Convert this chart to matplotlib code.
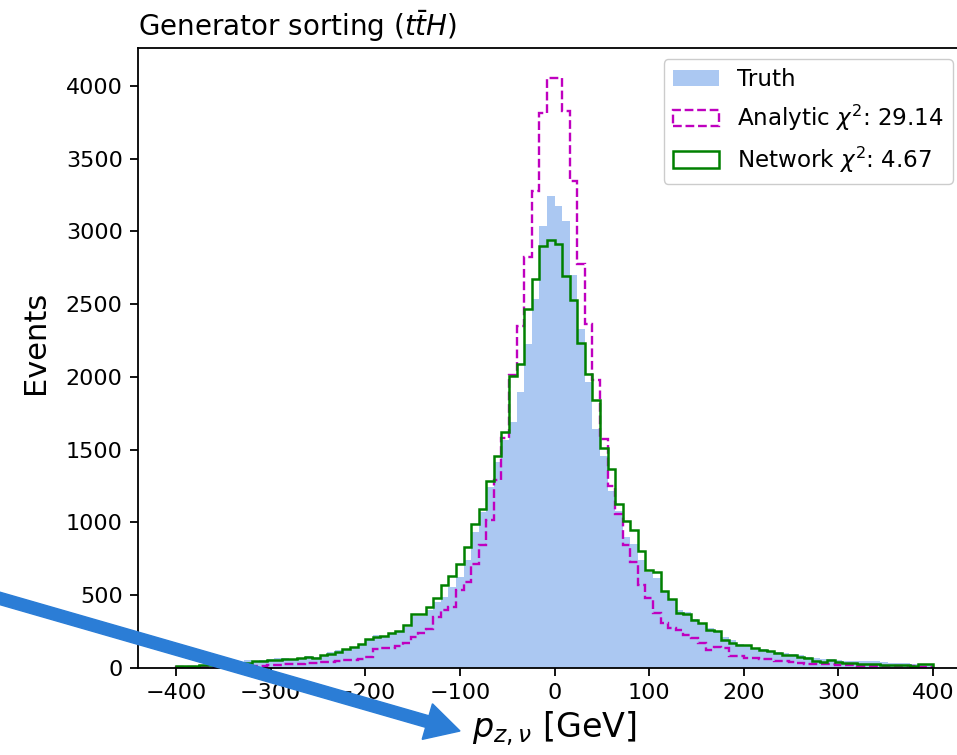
import numpy as np
import matplotlib
matplotlib.use('Agg')
import matplotlib.pyplot as plt
from matplotlib.patches import FancyArrow

# ---- data (8 GeV bins from -400 to 400) ----
bin_edges = np.arange(-400, 401, 8)

truth = [
    12, 14, 16, 18, 20, 24, 26, 30, 40, 52,
    50, 52, 60, 70, 66, 62, 65, 80, 75, 90,
    110, 125, 125, 140, 160, 190, 225, 220, 236, 250,
    285, 355, 360, 400, 455, 489, 558, 627, 741, 935,
    1073, 1244, 1416, 1564, 1690, 1896, 2228, 2536, 3035, 3245,
    3177, 3074, 2700, 2331, 1965, 1644, 1460, 1215, 1080, 902,
    850, 742, 662, 620, 520, 470, 400, 387, 335, 300,
    278, 256, 215, 192, 165, 151, 135, 128, 119, 108,
    101, 96, 89, 78, 72, 62, 60, 55, 50, 48,
    48, 45, 45, 40, 37, 35, 32, 28, 27, 25,
]

analytic = [
    6, 6, 7, 7, 8, 8, 9, 9, 10, 12,
    14, 14, 18, 23, 25, 28, 30, 37, 37, 38,
    41, 45, 55, 58, 62, 78, 132, 135, 138, 150,
    169, 212, 242, 265, 352, 400, 420, 538, 588, 712,
    844, 1015, 1290, 1580, 2010, 2353, 2822, 3280, 3812, 4057,
    4057, 3828, 3348, 2777, 2365, 1976, 1572, 1248, 1061, 848,
    729, 569, 484, 375, 307, 275, 262, 230, 204, 170,
    124, 142, 140, 85, 82, 66, 66, 64, 62, 50,
    50, 40, 37, 30, 30, 28, 25, 22, 20, 18,
    16, 15, 14, 14, 13, 12, 12, 11, 10, 10,
]

network = [
    14, 14, 16, 18, 22, 23, 24, 26, 28, 32,
    45, 50, 55, 56, 62, 60, 66, 75, 72, 89,
    96, 112, 130, 146, 162, 197, 210, 220, 238, 255,
    295, 368, 368, 421, 478, 569, 632, 718, 832, 988,
    1091, 1285, 1456, 1621, 2005, 2088, 2468, 2674, 2902, 2941,
    2914, 2696, 2530, 2230, 2020, 1839, 1513, 1370, 1125, 1011,
    947, 804, 675, 661, 530, 472, 375, 368, 332, 306,
    262, 256, 192, 174, 160, 155, 135, 125, 120, 101,
    92, 87, 75, 68, 45, 43, 55, 38, 37, 36,
    28, 27, 26, 22, 21, 20, 21, 14, 25, 27,
]

labels = ['Truth', r'Analytic $\chi^2$: 29.14', r'Network $\chi^2$: 4.67']
title = r'Generator sorting ($t\bar{t}H$)'
xlabel = r'$p_{z,\nu}$ [GeV]'
ylabel = 'Events'
xticks = [-400, -300, -200, -100, 0, 100, 200, 300, 400]
yticks = [0, 500, 1000, 1500, 2000, 2500, 3000, 3500, 4000]

centers = 0.5 * (bin_edges[:-1] + bin_edges[1:])

W, H = 957, 755
fig = plt.figure(figsize=(W / 100, H / 100), dpi=100)
ax = fig.add_axes([138 / W, 87 / H, 833 / W, 620 / H])

ax.hist(centers, bins=bin_edges, weights=truth, histtype='stepfilled',
        color='#abc8f2', label=labels[0])
ax.hist(centers, bins=bin_edges, weights=analytic, histtype='step',
        color='m', ls='--', lw=1.7, label=labels[1])
ax.hist(centers, bins=bin_edges, weights=network, histtype='step',
        color='g', lw=1.8, label=labels[2])

ax.set_xlim(-440, 440)
ax.set_ylim(0, 4260)
ax.set_xticks(xticks)
ax.set_yticks(yticks)
ax.tick_params(labelsize=16, length=6, width=1.3, pad=5)
for s in ax.spines.values():
    s.set_linewidth(1.3)

ax.set_title(title, loc='left', fontsize=20, pad=9)
ax.set_xlabel(xlabel, fontsize=24, labelpad=4)
ax.set_ylabel(ylabel, fontsize=22)
ax.yaxis.set_label_coords(-0.106, 0.525)

leg = ax.legend(loc='upper right', bbox_to_anchor=(953 / W, 1 - 59 / H),
                bbox_transform=fig.transFigure, borderaxespad=0,
                fontsize=16.6, framealpha=1)

# blue annotation arrow drawn over the figure (inches)
arr = FancyArrow(-0.05, (H - 597) / 100, 4.65, -(731 - 597) / 100,
                 width=0.12, head_width=0.37, head_length=0.34,
                 length_includes_head=True, color='#2b7dd6',
                 transform=fig.dpi_scale_trans, zorder=10)
fig.add_artist(arr)

fig.savefig('out.png', dpi=100)
